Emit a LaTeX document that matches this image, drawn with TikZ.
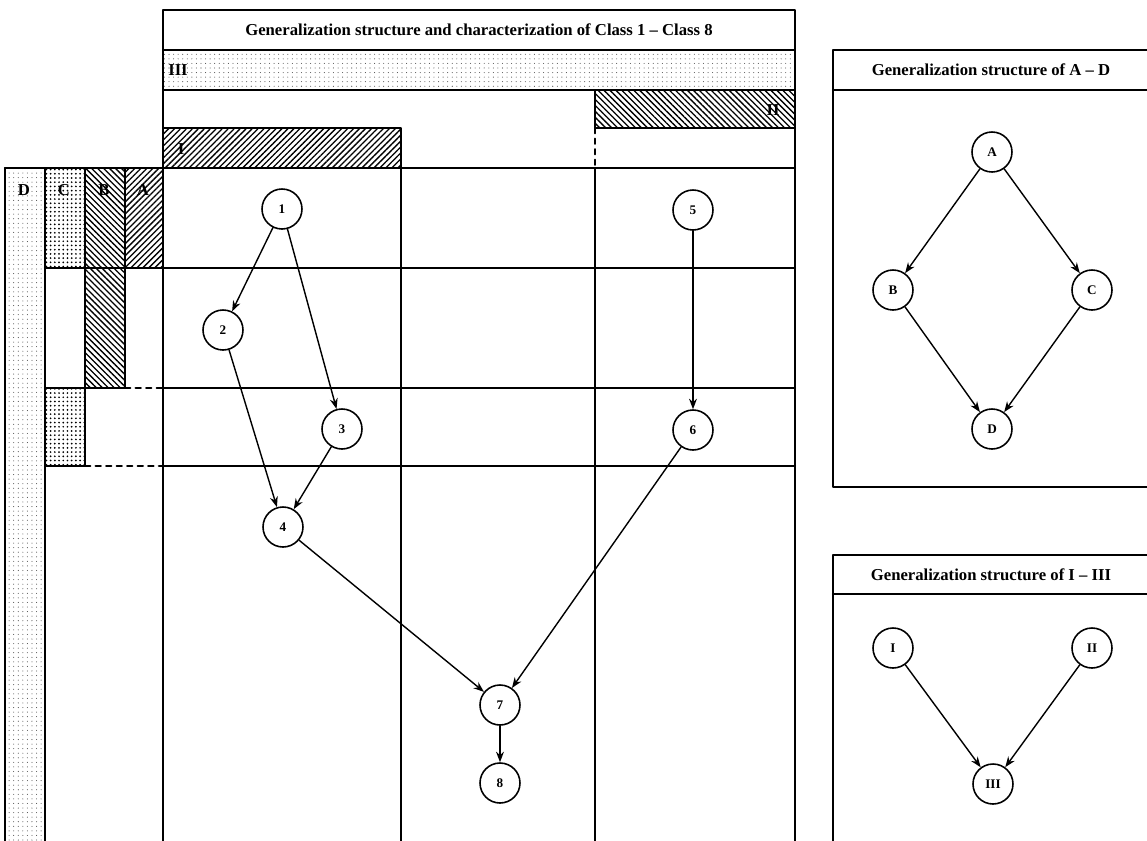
\documentclass[tikz,border=0pt]{standalone}
\usepackage{fontspec}
\setmainfont{Liberation Serif}
\usetikzlibrary{patterns.meta,arrows.meta}
\begin{document}
\begin{tikzpicture}[x=0.02cm,y=-0.02cm,>={Stealth[length=6pt,width=4.5pt]}, font=\fontsize{9.5}{11}\selectfont\bfseries, line join=round, line cap=round,
	frm/.style={line width=1.2pt},
	cls/.style={circle,draw,line width=0.9pt,minimum size=0.8cm,inner sep=0pt,font=\fontsize{7.5}{8}\selectfont\bfseries},
	hatchne/.style={pattern={Lines[angle=45,distance=2.4pt,line width=0.75pt]}},
	hatchnw/.style={pattern={Lines[angle=-45,distance=2.4pt,line width=0.75pt]}},
	densedots/.style={pattern={Dots[distance=2.4pt,radius=0.55pt]}},
	lightdots/.style={pattern={Dots[distance=2.6pt,radius=0.3pt]},pattern color=black!70}]
	\useasboundingbox (0,0) rectangle (1147,840);
	% Class 1 - Class 8
	\draw[frm] (163,10) rectangle (795,90);
	\draw[frm,lightdots] (163,50) rectangle (795,90);
	\draw[frm,hatchnw] (595,90) rectangle (795,128);
	\draw[frm,hatchne] (163,128) rectangle (401,168);
	\draw[frm,dashed] (595,128)--(595,168);
	\node (title) at (479,30) {Generalization structure and characterization of Class 1 -- Class 8};
	\node (lIII) at (178,70) {III};
	\node (lII) at (773,110) {II};
	\node (lI) at (181,149) {I};
	\draw[frm,lightdots] (5,168) rectangle (45,850);
	\draw[frm,densedots] (45,168) rectangle (85,268) (45,388) rectangle (85,466);
	\draw[frm,hatchnw] (85,168) rectangle (125,388);
	\draw[frm,hatchne] (125,168) rectangle (163,268);
	\foreach \l/\x in {D/24,C/64,B/104,A/143}
		\node (bar\l) at (\x,190) {\l};
	\foreach \x/\t in {163/90,795/90,401/168,595/168}
		\draw[frm] (\x,\t)--(\x,850);
	\draw[frm] (5,168)--(795,168) (45,268)--(795,268) (45,388)--(125,388) (163,388)--(795,388)
		(45,466)--(85,466) (163,466)--(795,466);
	\draw[frm,dashed] (125,388)--(163,388) (85,466)--(163,466);
	\foreach \n/\x/\y in {1/282/209,2/223/330,3/342/429,4/283/527,5/693/210,6/693/430,7/500/705,8/500/783}
		\node[cls] (n\n) at (\x,\y) {\n};
	\foreach \a/\b in {1/2,1/3,2/4,3/4,4/7,5/6,6/7,7/8}
		\draw[->,line width=0.8pt] (n\a)--(n\b);
	% A - D
	\draw[frm] (833,50) rectangle (1160,487) (833,90)--(1160,90);
	\node (titleAD) at (991,70) {Generalization structure of A -- D};
	\foreach \n/\x/\y in {A/992/152,B/893/290,C/1092/290,D/992/429}
		\node[cls] (\n) at (\x,\y) {\n};
	\foreach \a/\b in {A/B,A/C,B/D,C/D}
		\draw[->,line width=0.8pt] (\a)--(\b);
	% I - III
	\draw[frm] (833,555) rectangle (1160,850) (833,594)--(1160,594);
	\node (titleI) at (991,575) {Generalization structure of I -- III};
	\foreach \n/\x/\y in {I/893/648,II/1092/648,III/993/784}
		\node[cls] (r\n) at (\x,\y) {\n};
	\foreach \a/\b in {I/III,II/III}
		\draw[->,line width=0.8pt] (r\a)--(r\b);
\end{tikzpicture}
\end{document}
